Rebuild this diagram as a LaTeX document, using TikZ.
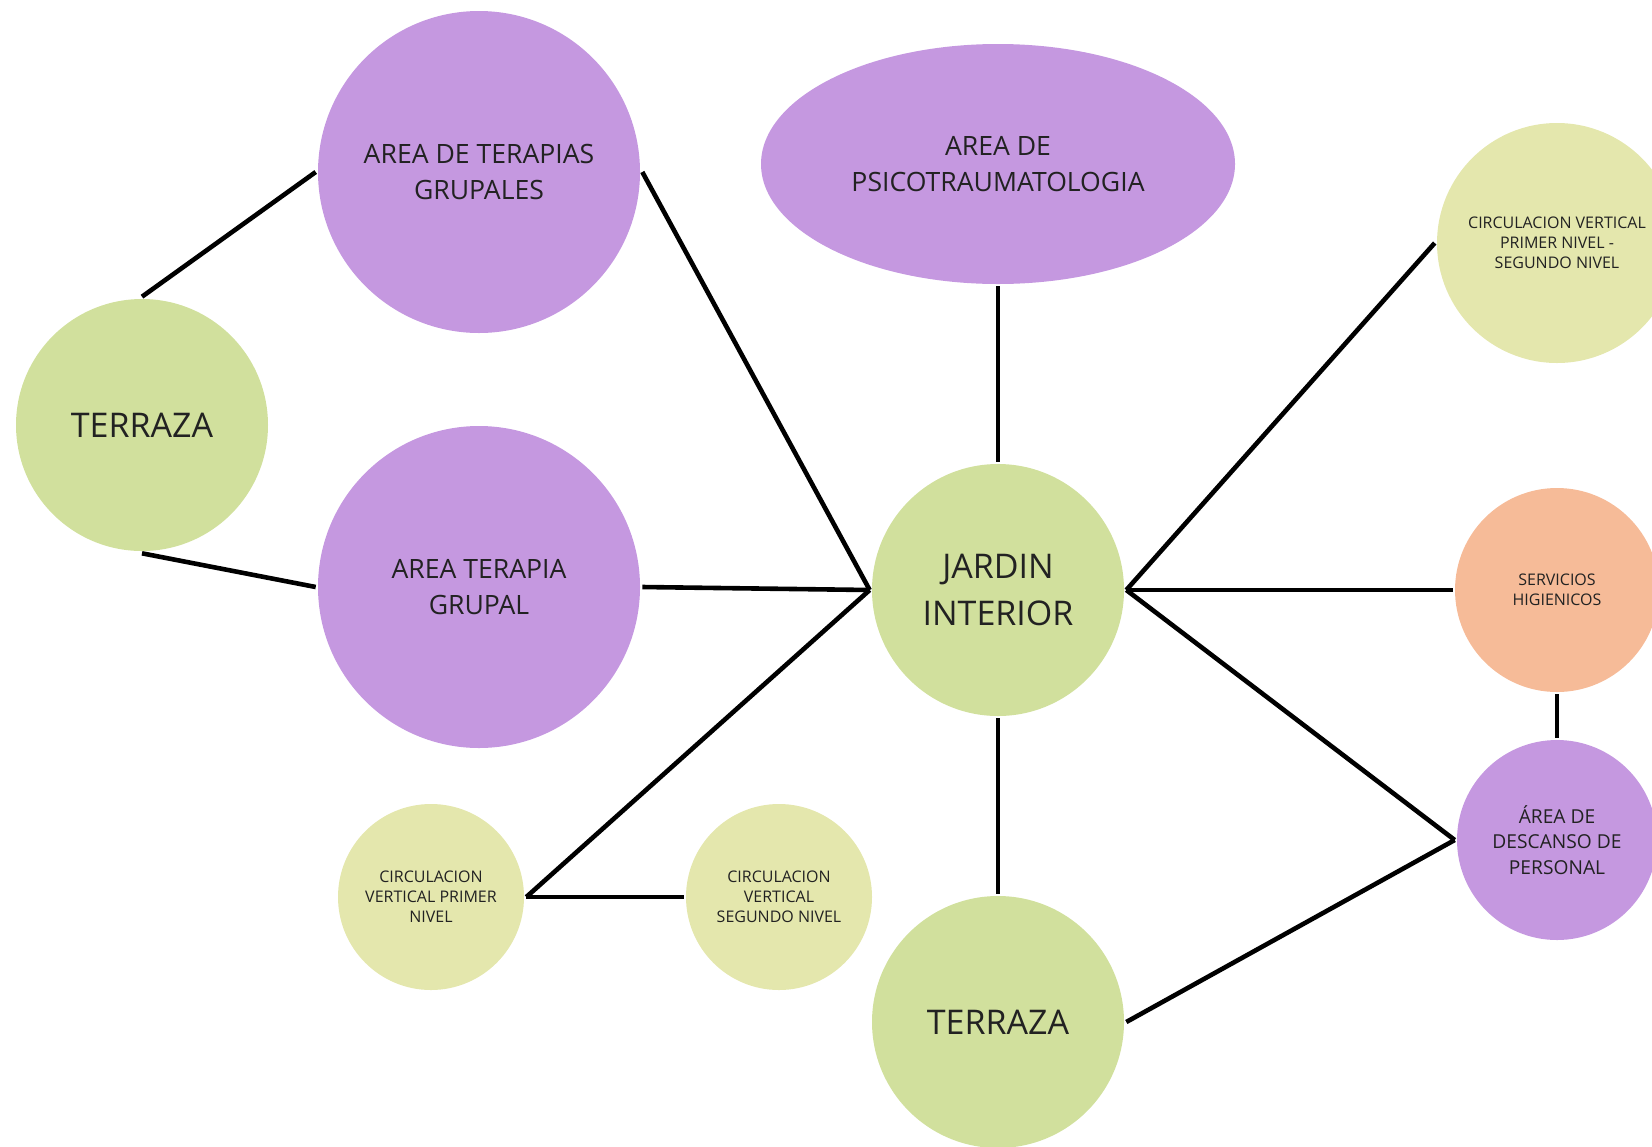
\documentclass[tikz,border=0pt]{standalone}
\usepackage{fontspec}
\setmainfont{Open Sans}
\usetikzlibrary{shapes.geometric}

\definecolor{lila}{RGB}{197,152,224}
\definecolor{verde}{RGB}{209,224,157}
\definecolor{palido}{RGB}{228,231,173}
\definecolor{naranja}{RGB}{246,187,152}
\definecolor{texto}{RGB}{34,34,34}

\tikzset{every picture/.style={line width=2.3pt}}
\tikzset{
  ball/.style={circle,draw=none,inner sep=0pt,align=center,text=texto},
  grande/.style={font=\fontsize{17}{23.5}\selectfont},
  medio/.style={font=\fontsize{13.3}{18}\selectfont},
  chico/.style={font=\fontsize{8}{10}\selectfont},
  conector/.style={draw=black,line width=2.3pt}
}

\begin{document}
\begin{tikzpicture}[x=0.5pt,y=0.5pt,yscale=-1,xscale=1]
\useasboundingbox (0,0) rectangle (1652,1146);

%Shape: Circles left
\node[ball,fill=verde,grande,minimum size=126pt] (terrazaL) at (142,425) {TERRAZA};
\node[ball,fill=lila,medio,minimum size=161pt] (terapias) at (479,172) {AREA DE TERAPIAS\\GRUPALES};
\node[ball,fill=lila,medio,minimum size=161pt] (terapia) at (479,587) {AREA TERAPIA\\GRUPAL};

%Shape: Ellipse top
\node[ellipse,fill=lila,draw=none,inner sep=0pt,align=center,text=texto,medio,minimum width=237pt,minimum height=120pt] (psico) at (998,164) {AREA DE\\PSICOTRAUMATOLOGIA};

%Shape: Circles center
\node[ball,fill=verde,grande,minimum size=126pt] (jardin) at (998,590) {JARDIN\\INTERIOR};
\node[ball,fill=verde,grande,minimum size=126pt] (terrazaB) at (998,1022) {TERRAZA};

%Shape: Circles bottom left
\node[ball,fill=palido,chico,minimum size=93pt] (circP) at (431,897) {CIRCULACION\\VERTICAL PRIMER\\NIVEL};
\node[ball,fill=palido,chico,minimum size=93pt] (circS) at (779,897) {CIRCULACION\\VERTICAL\\SEGUNDO NIVEL};

%Shape: Circles right
\node[ball,fill=palido,chico,minimum size=120pt] (circV) at (1557,243) {CIRCULACION VERTICAL\\PRIMER NIVEL -\\SEGUNDO NIVEL};
\node[ball,fill=naranja,chico,minimum size=102pt] (servicios) at (1557,590) {SERVICIOS\\HIGIENICOS};
\node[ball,fill=lila,font=\fontsize{9.6}{12.6}\selectfont,minimum size=100pt] (descanso) at (1557,840) {ÁREA DE\\DESCANSO DE\\PERSONAL};

%Lines
\draw[conector] (terrazaL.north) -- (terapias.west);
\draw[conector] (terrazaL.south) -- (terapia.west);
\draw[conector] (terapias.east) -- (jardin.west);
\draw[conector] (terapia.east) -- (jardin.west);
\draw[conector] (psico.south) -- (jardin.north);
\draw[conector] (jardin.west) -- (circP.east);
\draw[conector] (circP.east) -- (circS.west);
\draw[conector] (jardin.south) -- (terrazaB.north);
\draw[conector] (jardin.east) -- (circV.west);
\draw[conector] (jardin.east) -- (servicios.west);
\draw[conector] (jardin.east) -- (descanso.west);
\draw[conector] (terrazaB.east) -- (descanso.west);
\draw[conector] (servicios.south) -- (descanso.north);

\end{tikzpicture}
\end{document}
